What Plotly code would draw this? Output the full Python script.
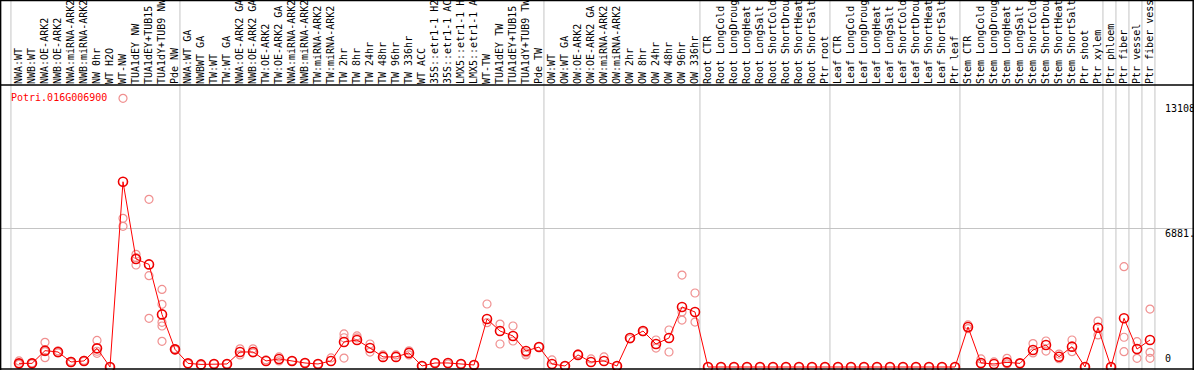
import plotly.graph_objects as go

gene = "Potri.016G006900"

labels = [
    "NWA:WT", "NWB:WT", "NWA:OE-ARK2", "NWB:OE-ARK2", "NWA:miRNA-ARK2", "NWB:miRNA-ARK2",
    "NW 0hr", "WT H2O", "WT-NW", "TUA1dEY NW", "TUA1dEY+TUB15", "TUA1dY+TUB9 NW", "Pde NW",
    "NWA:WT GA", "NWBWT GA", "TW:WT", "TW:WT GA", "NWA:OE-ARK2 GA", "NWB:OE-ARK2 GA",
    "TW:OE-ARK2", "TW:OE-ARK2 GA", "NWA:miRNA-ARK2", "NWB:miRNA-ARK2", "TW:miRNA-ARK2",
    "TW:miRNA-ARK2", "TW 2hr", "TW 8hr", "TW 24hr", "TW 48hr", "TW 96hr", "TW 336hr",
    "WT ACC", "35S::etr1-1 H2", "35S::etr1-1 AC", "LMX5::etr1-1 H", "LMX5::etr1-1 A",
    "WT-TW", "TUA1dEY TW", "TUA1dEY+TUB15", "TUA1dY+TUB9 TW", "Pde TW",
    "OW:WT", "OW:WT GA", "OW:OE-ARK2", "OW:OE-ARK2 GA", "OW:miRNA-ARK2", "OW:miRNA-ARK2",
    "OW 2hr", "OW 8hr", "OW 24hr", "OW 48hr", "OW 96hr", "OW 336hr",
    "Root CTR", "Root LongCold", "Root LongDroug", "Root LongHeat", "Root LongSalt",
    "Root ShortCold", "Root ShortDrou", "Root ShortHeat", "Root ShortSalt", "Ptr root",
    "Leaf CTR", "Leaf LongCold", "Leaf LongDroug", "Leaf LongHeat", "Leaf LongSalt",
    "Leaf ShortCold", "Leaf ShortDrou", "Leaf ShortHeat", "Leaf ShortSalt", "Ptr leaf",
    "Stem CTR", "Stem LongCold", "Stem LongDroug", "Stem LongHeat", "Stem LongSalt",
    "Stem ShortCold", "Stem ShortDrou", "Stem ShortHeat", "Stem ShortSalt", "Ptr shoot",
    "Ptr xylem", "Ptr phloem", "Ptr fiber", "Ptr vessel", "Ptr fiber vess",
]

means = [
    180, 180, 810, 745, 250, 300, 925, 0, 9190, 5360, 5090, 2610, 875,
    180, 130, 150, 150, 745, 745, 300, 400, 300, 200, 150, 300,
    1240, 1340, 940, 500, 500, 700, 50, 200, 200, 150, 100,
    2380, 1785, 1540, 795, 990,
    150, 50, 600, 250, 300, 50, 1440, 1785, 1140, 1440, 2980, 2730,
    0, 0, 0, 0, 0, 0, 0, 0, 0, 0,
    0, 0, 0, 0, 0, 0, 0, 0, 0, 0,
    1985, 200, 150, 230, 180, 845, 1090, 510, 1010, 0,
    1950, 0, 2415, 890, 1340,
]

replicates = [
    [300, 130, 180], [150, 200], [1225, 460, 760], [700, 800], [220, 280], [280, 330],
    [1320, 680, 780], [0], [13330, 7375, 6980], [5590, 5060, 5430], [8320, 4530, 2415],
    [3850, 3110, 2215, 2035, 1275], [850, 900],
    [150], [100], [150], [150], [900, 600], [900, 700], [350], [500, 300], [300], [200],
    [150], [450],
    [1640, 1450, 445], [1540, 1440], [1140, 740], [600], [600], [800, 600], [50], [200],
    [150], [150], [100],
    [3125, 2200], [2130, 1140], [2035, 1290], [600, 700], [1000],
    [350], [50], [650], [400], [500], [50], [1390], [1750], [940, 1340], [745, 1835],
    [4560, 2330, 2730], [3670, 2230],
    [0], [0], [0], [0], [0], [0], [0], [0], [0], [0],
    [0], [0], [0], [0], [0], [0], [0], [0], [0], [0],
    [2085, 1900], [400, 150], [250], [430, 150], [180], [1160, 700], [1290, 790],
    [640, 410], [1340, 760], [0],
    [2280, 1590], [0], [4975, 1475, 760], [1255, 430], [2875, 730, 430],
]

group_starts = [0, 13, 41, 53, 63, 73, 84, 85, 86, 87, 88]

y_tick_vals = [0, 6881, 13108]
y_tick_text = ["0", "6881.", "13108"]
y_grid_vals = [6881]

W, H = 1194, 370
TOP = 85
MONO = "DejaVu Sans Mono"

xs = list(range(len(labels)))
rep_x = [i for i, r in enumerate(replicates) for _ in r]
rep_y = [v for r in replicates for v in r]

fig = go.Figure()
fig.add_trace(go.Scatter(
    x=rep_x, y=rep_y, mode="markers",
    marker=dict(symbol="circle-open", size=8, color="#f09090", line=dict(width=1.2, color="#f09090")),
    hoverinfo="skip", showlegend=False,
))
fig.add_trace(go.Scatter(
    x=xs, y=means, mode="lines+markers",
    line=dict(color="#ff0000", width=1),
    marker=dict(symbol="circle-open", size=9, color="#ee0000", line=dict(width=1.6, color="#ee0000")),
    showlegend=False,
))

plot_h = H - TOP
ytop_paper = H / plot_h

shapes = []
for g in group_starts:
    shapes.append(dict(type="line", xref="x", yref="paper", x0=g - 0.62, x1=g - 0.62,
                       y0=0, y1=ytop_paper, line=dict(color="#c4c4c4", width=1), layer="below"))
# frame
frame = dict(color="black", width=1.5)
shapes += [
    dict(type="line", xref="paper", yref="paper", x0=0, x1=1, y0=1, y1=1, line=frame),
    dict(type="line", xref="paper", yref="paper", x0=0, x1=1, y0=1.0 / plot_h, y1=1.0 / plot_h, line=frame),
    dict(type="line", xref="paper", yref="paper", x0=0, x1=1, y0=(H - 0.5) / plot_h, y1=(H - 0.5) / plot_h, line=frame),
    dict(type="line", xref="paper", yref="paper", x0=0.6 / W, x1=0.6 / W, y0=0, y1=ytop_paper, line=frame),
    dict(type="line", xref="paper", yref="paper", x0=(W - 0.8) / W, x1=(W - 0.8) / W, y0=0, y1=ytop_paper, line=frame),
]

annotations = []
for v, t in zip(y_tick_vals, y_tick_text):
    annotations.append(dict(
        x=1163 / W, xref="paper", y=v, yref="y", text=t, showarrow=False,
        xanchor="left", yanchor="bottom" if v == 0 else "top", yshift=2 if v != 0 else 1,
        font=dict(family=MONO, size=10, color="black"),
    ))
annotations.append(dict(
    x=9 / W, xref="paper", y=(H - 97.3) / plot_h, yref="paper", text=gene, showarrow=False,
    xanchor="left", yanchor="middle", font=dict(family=MONO, size=10, color="#ff0000"),
))

fig.update_layout(
    width=W, height=H,
    margin=dict(l=0, r=0, t=TOP, b=0, pad=0),
    paper_bgcolor="white", plot_bgcolor="white",
    shapes=shapes, annotations=annotations,
    xaxis=dict(
        side="top", tickmode="array", tickvals=xs, ticktext=labels, tickangle=-90,
        tickfont=dict(family=MONO, size=10, color="black"), ticks="",
        range=[-19 / 13, (W - 19) / 13], showgrid=False, zeroline=False, showline=False,
        automargin=False, fixedrange=True,
    ),
    yaxis=dict(
        range=[-149, 13990], tickmode="array", tickvals=y_grid_vals, showticklabels=False,
        showgrid=True, gridcolor="#c4c4c4", gridwidth=1, zeroline=False, showline=False,
        automargin=False, fixedrange=True,
    ),
)

fig.write_html("out.html", config={"displayModeBar": False},
               post_script="document.body.style.margin='0';document.body.style.overflow='hidden';")
